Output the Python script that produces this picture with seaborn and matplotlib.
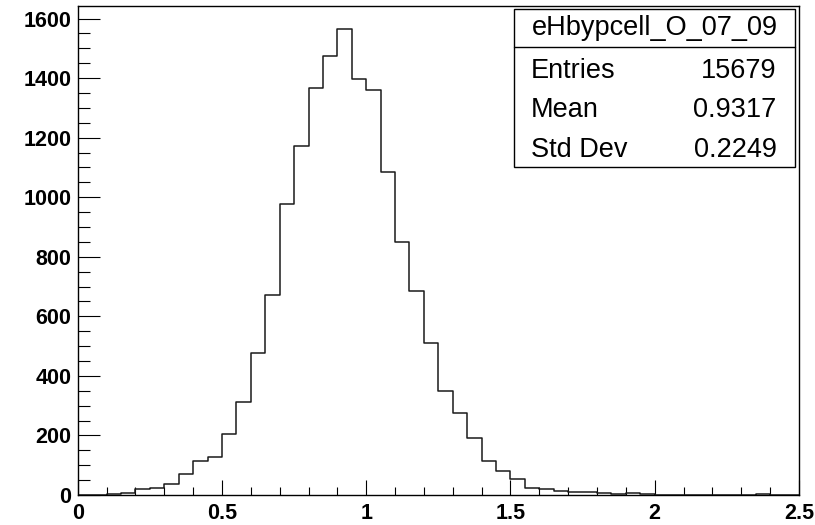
import numpy as np
import pandas as pd
import matplotlib
matplotlib.use("Agg")
import matplotlib.pyplot as plt
from matplotlib.ticker import MultipleLocator
import seaborn as sns

# Histogram data (50 bins of width 0.05 from 0 to 2.5)
bin_width = 0.05
bin_left_edges = [round(i * bin_width, 2) for i in range(50)]
counts = [0, 0, 3, 8, 19, 22, 38, 69, 113, 126,
          206, 312, 477, 671, 977, 1171, 1366, 1475, 1565, 1396,
          1359, 1083, 851, 685, 511, 350, 274, 191, 113, 79,
          53, 25, 19, 13, 9, 9, 8, 3, 8, 3,
          0, 0, 0, 0, 0, 0, 0, 3, 0, 0]
hist_name = "eHbypcell_O_07_09"
stat_labels = ["Entries", "Mean", "Std Dev"]
stat_values = ["15679", "0.9317", "0.2249"]
x_ticks = [0, 0.5, 1, 1.5, 2, 2.5]
x_tick_labels = ["0", "0.5", "1", "1.5", "2", "2.5"]
y_ticks = [0, 200, 400, 600, 800, 1000, 1200, 1400, 1600]

sns.set_style("ticks")
plt.rcParams["font.family"] = ["Liberation Sans", "DejaVu Sans"]
plt.rcParams["text.color"] = "black"
plt.rcParams["xtick.color"] = "black"
plt.rcParams["ytick.color"] = "black"

df = pd.DataFrame({"x": np.array(bin_left_edges) + bin_width / 2, "w": counts})

fig = plt.figure(figsize=(8.15, 5.25), dpi=100)
ax = fig.add_axes([77.7 / 815, 30 / 525, (799 - 77.7) / 815, (495 - 5.7) / 525])

sns.histplot(data=df, x="x", weights="w", binwidth=bin_width, binrange=(0, 2.5),
             element="step", fill=False, color="#1a1a1a", linewidth=1.1, ax=ax)

ax.set_xlim(0, 2.5)
ax.set_ylim(0, 1643)
ax.set_xlabel("")
ax.set_ylabel("")
ax.set_xticks(x_ticks)
ax.set_xticklabels(x_tick_labels)
ax.set_yticks(y_ticks)
ax.xaxis.set_minor_locator(MultipleLocator(0.1))
ax.yaxis.set_minor_locator(MultipleLocator(50))
for s in ax.spines.values():
    s.set_visible(True)
    s.set_linewidth(1.0)
    s.set_color("black")
ax.tick_params(axis="x", which="major", direction="in", length=10.8, width=0.8,
               pad=5.5, labelsize=15.5, labelcolor="black", top=False)
ax.tick_params(axis="x", which="minor", direction="in", length=5.5, width=0.8, top=False)
ax.tick_params(axis="y", which="major", direction="in", length=16, width=0.8,
               pad=4.5, labelsize=15.5, labelcolor="black", right=False)
ax.tick_params(axis="y", which="minor", direction="in", length=8.4, width=0.8, right=False)
for lab in ax.get_xticklabels() + ax.get_yticklabels():
    lab.set_fontweight("bold")

# Stats box
W, H = 815.0, 525.0
bx0, bx1, by_top, by_bot, by_div = 514 / W, 795 / W, 1 - 8.7 / H, 1 - 167 / H, 1 - 47 / H
rect = plt.Rectangle((bx0, by_bot), bx1 - bx0, by_top - by_bot, transform=fig.transFigure,
                     facecolor="white", edgecolor="black", linewidth=1.0, zorder=5)
fig.patches.append(rect)
fig.add_artist(plt.Line2D([bx0, bx1], [by_div, by_div], transform=fig.transFigure,
                          color="black", linewidth=1.0, zorder=6))
fs = 19.5
fig.text((bx0 + bx1) / 2, 1 - 35 / H, hist_name, ha="center", va="baseline",
         fontsize=fs, color="black", zorder=7)
baselines = [78.3, 116.7, 156.7]
for lab, val, b in zip(stat_labels, stat_values, baselines):
    fig.text(530.7 / W, 1 - b / H, lab, ha="left", va="baseline", fontsize=fs,
             color="black", zorder=7)
    fig.text(776.7 / W, 1 - b / H, val, ha="right", va="baseline", fontsize=fs,
             color="black", zorder=7)

fig.savefig("out.png", dpi=100)
